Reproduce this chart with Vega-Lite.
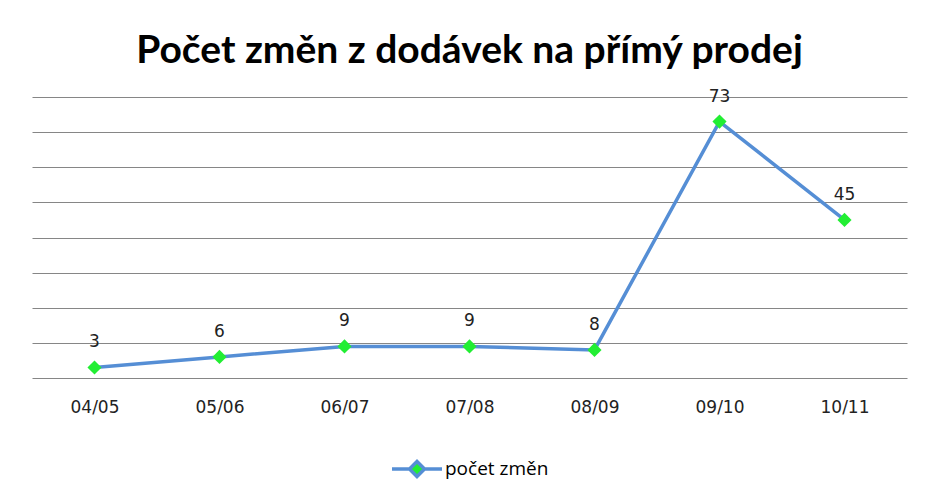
{
  "$schema": "https://vega.github.io/schema/vega-lite/v6.json",
  "width": 875,
  "height": 281,
  "autosize": "none",
  "padding": {"left": 32, "top": 97, "right": 21, "bottom": 119},
  "background": "white",
  "title": {
    "text": "Počet změn z dodávek na přímý prodej",
    "font": "Lato",
    "fontSize": 39,
    "fontWeight": "bold",
    "color": "#000000",
    "anchor": "middle",
    "baseline": "alphabetic",
    "offset": -14
  },
  "data": {
    "values": [
      {"obdobi": "04/05", "pocet": 3, "serie": "počet změn"},
      {"obdobi": "05/06", "pocet": 6, "serie": "počet změn"},
      {"obdobi": "06/07", "pocet": 9, "serie": "počet změn"},
      {"obdobi": "07/08", "pocet": 9, "serie": "počet změn"},
      {"obdobi": "08/09", "pocet": 8, "serie": "počet změn"},
      {"obdobi": "09/10", "pocet": 73, "serie": "počet změn"},
      {"obdobi": "10/11", "pocet": 45, "serie": "počet změn"}
    ]
  },
  "encoding": {
    "x": {
      "field": "obdobi",
      "type": "ordinal",
      "scale": {"type": "point", "padding": 0.5},
      "axis": {
        "title": null,
        "labelAngle": 0,
        "labelFont": "DejaVu Sans",
        "labelFontSize": 17,
        "labelColor": "#222222",
        "labelPadding": 21,
        "ticks": false,
        "domain": false,
        "grid": false
      }
    },
    "y": {
      "field": "pocet",
      "type": "quantitative",
      "scale": {"domain": [0, 80], "nice": false},
      "axis": {
        "title": null,
        "labels": false,
        "ticks": false,
        "domain": false,
        "values": [0, 10, 20, 30, 40, 50, 60, 70, 80],
        "grid": true,
        "gridColor": "#868686",
        "gridWidth": 1,
        "gridOpacity": 1
      }
    }
  },
  "layer": [
    {
      "mark": {"type": "line", "color": "#558ED5", "strokeWidth": 3.5},
      "encoding": {
        "color": {
          "field": "serie",
          "type": "nominal",
          "scale": {"range": ["#558ED5"]},
          "legend": {
            "title": null,
            "orient": "none",
            "legendX": 358,
            "legendY": 345,
            "symbolType": "M-1,0L-0.3,0M0.3,0L1,0M-0.3,0L0,-0.3L0.3,0L0,0.3Z",
            "symbolSize": 2500,
            "symbolStrokeWidth": 3.5,
            "symbolFillColor": "#22EE33",
            "symbolStrokeColor": "#558ED5",
            "labelFont": "Open Sans",
            "labelFontSize": 19,
            "labelColor": "#000000",
            "labelOffset": 1
          }
        }
      }
    },
    {
      "mark": {"type": "point", "shape": "diamond", "filled": true, "size": 200, "color": "#22EE33", "opacity": 1}
    },
    {
      "mark": {"type": "text", "dy": -25, "font": "DejaVu Sans", "fontSize": 17, "color": "#222222"},
      "encoding": {"text": {"field": "pocet", "type": "quantitative"}}
    }
  ],
  "config": {"view": {"stroke": null}}
}
